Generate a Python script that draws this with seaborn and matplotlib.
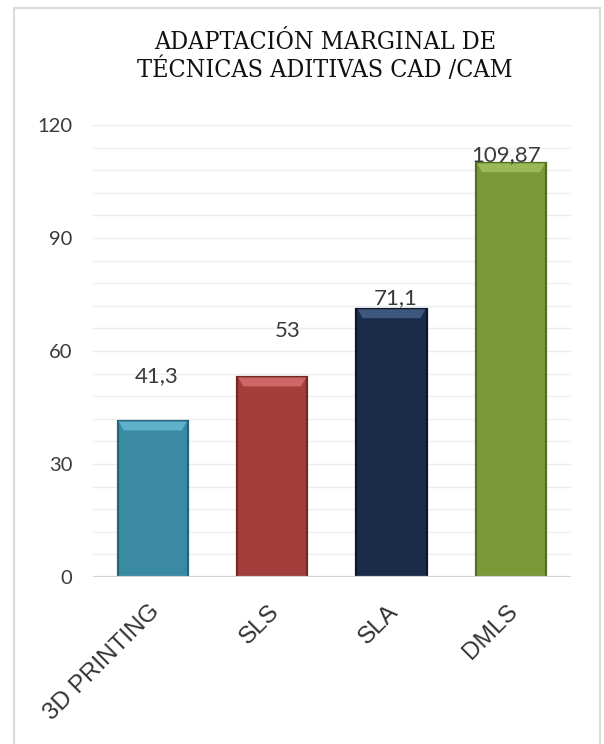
import numpy as np
import pandas as pd
import matplotlib
matplotlib.use("Agg")
import matplotlib.pyplot as plt
import matplotlib.patches as mpatches
import matplotlib.transforms as mtransforms
import seaborn as sns

# datos
tecnicas = ["3D PRINTING", "SLS", "SLA", "DMLS"]
adaptacion = [41.3, 53, 71.1, 109.87]
etiquetas = ["41,3", "53", "71,1", "109,87"]
colores = ["#3A8AA3", "#A23E3C", "#1B2C49", "#7A9A3A"]
bordes = ["#25657A", "#752826", "#0D1830", "#556E22"]
brillo = ["#6CC3DC", "#E07A78", "#4D6C94", "#A9C966"]
# posicion de las etiquetas respecto a la barra (como en el original)
desplazamiento = [12.1, 12.3, 3.0, 2.2]
desplaz_x = [0.03, 0.13, 0.03, -0.04]

df = pd.DataFrame({"Tecnica": tecnicas, "Valor": adaptacion})

sns.set_theme(style="white")
plt.rcParams["font.family"] = ["Liberation Sans", "DejaVu Sans"]

fig = plt.figure(figsize=(6.04, 7.44), dpi=100)
ax = fig.add_axes([0.154, 0.2245, 0.791, 0.6075])

sns.barplot(data=df, x="Tecnica", y="Valor", hue="Tecnica", palette=colores,
            saturation=1, width=0.59, legend=False, ax=ax, zorder=3)

# bisel superior al estilo Excel
bisel = 2.4
for barra, borde, luz in zip(ax.patches, bordes, brillo):
    barra.set_edgecolor(borde)
    barra.set_linewidth(1.6)
    x0, w, h = barra.get_x(), barra.get_width(), barra.get_height()
    dx = w * 0.09
    poly = mpatches.Polygon([(x0 + 0.01, h), (x0 + w - 0.01, h),
                             (x0 + w - dx, h - bisel), (x0 + dx, h - bisel)],
                            closed=True, facecolor=luz, edgecolor="none",
                            alpha=0.7, zorder=4)
    ax.add_patch(poly)

ax.set_ylim(0, 120)
ax.set_xlim(-0.5, 3.5)
ax.set_yticks([0, 30, 60, 90, 120])
ax.set_yticks(np.arange(0, 121, 6), minor=True)
ax.grid(axis="y", which="both", color="#EDEDED", linewidth=1, zorder=0)
ax.axhline(0, color="#D3D3D3", linewidth=1.6, zorder=5)
for s in ax.spines.values():
    s.set_visible(False)

ax.set_xlabel("")
ax.set_ylabel("")
ax.tick_params(axis="y", which="both", length=0, labelsize=14.5,
               labelcolor="#3A3A3A", pad=15)
ax.tick_params(axis="x", length=0, labelsize=17.5, labelcolor="#333333", pad=17)
for lbl in ax.get_yticklabels():
    lbl.set_family(["Lato", "DejaVu Sans"])
corr = mtransforms.ScaledTranslation(-4 / 100, 0, fig.dpi_scale_trans)
for lbl in ax.get_xticklabels():
    lbl.set_rotation(45)
    lbl.set_ha("right")
    lbl.set_va("top")
    lbl.set_rotation_mode("anchor")
    lbl.set_transform(lbl.get_transform() + corr)

for i, (v, txt, d, ddx) in enumerate(zip(adaptacion, etiquetas, desplazamiento, desplaz_x)):
    ax.text(i + ddx, v + d, txt, ha="center", va="center", fontsize=16,
            color="#3A3A3A", family=["Lato", "DejaVu Sans"], zorder=6)

fig.text(0.538, 0.958, "ADAPTACIÓN MARGINAL DE\nTÉCNICAS ADITIVAS CAD /CAM",
         ha="center", va="top", fontsize=18, color="#111111",
         family="DejaVu Serif", fontstretch="condensed", linespacing=1.15)

fig.patches.append(mpatches.Rectangle((14 / 604, -10 / 744), 586 / 604, 746 / 744,
                                      transform=fig.transFigure, fill=False,
                                      edgecolor="#DCDCDC", linewidth=1.6))

plt.savefig("out.png", dpi=100)
plt.close()
